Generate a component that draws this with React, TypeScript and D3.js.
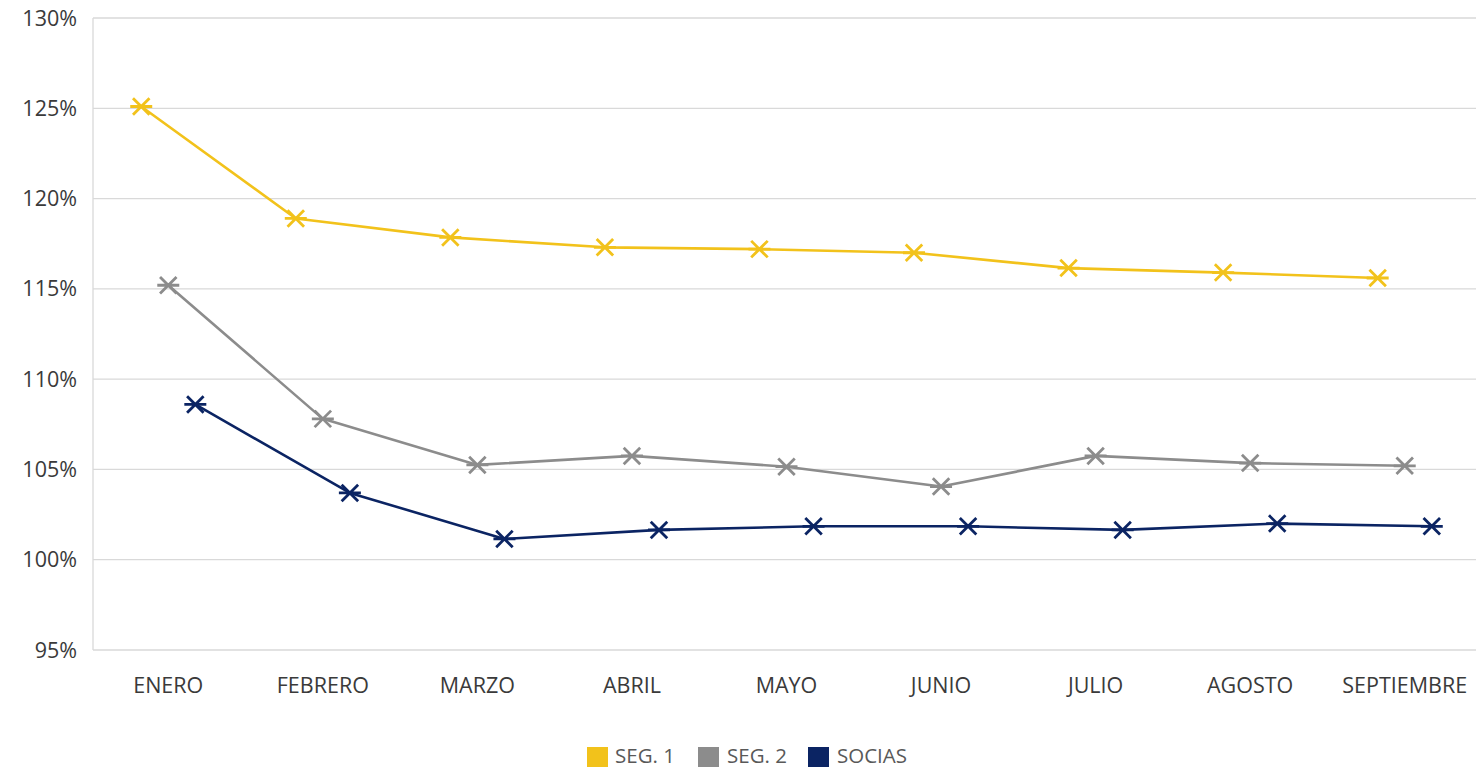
import { useRef, useEffect } from 'react';
import * as d3 from 'd3';

const months = ['ENERO', 'FEBRERO', 'MARZO', 'ABRIL', 'MAYO', 'JUNIO', 'JULIO', 'AGOSTO', 'SEPTIEMBRE'];
const seg1 = [125.1, 118.9, 117.85, 117.3, 117.2, 117.0, 116.15, 115.9, 115.6];
const seg2 = [115.2, 107.8, 105.25, 105.75, 105.15, 104.05, 105.75, 105.35, 105.2];
const socias = [108.6, 103.7, 101.15, 101.65, 101.85, 101.85, 101.65, 102.0, 101.85];
const yTicks = [95, 100, 105, 110, 115, 120, 125, 130];

const series = [
  { name: 'SEG. 1', values: seg1, color: '#f2c21b', offset: -0.175 },
  { name: 'SEG. 2', values: seg2, color: '#8c8c8c', offset: 0 },
  { name: 'SOCIAS', values: socias, color: '#0b2463', offset: 0.175 },
];

const W = 1476;
const H = 771;

export default function App() {
  const svgRef = useRef<SVGSVGElement>(null);

  useEffect(() => {
    if (!svgRef.current) return;
    const svg = d3.select(svgRef.current);
    svg.selectAll('*').remove();

    const font = '"Open Sans", "DejaVu Sans", sans-serif';
    const plotLeft = 93;
    const plotRight = W;

    const x = d3.scaleBand<string>().domain(months).range([91, 1482]);
    const y = d3.scaleLinear().domain([95, 130]).range([650, 18]);

    // gridlines
    svg.append('g')
      .selectAll('line')
      .data(yTicks)
      .join('line')
      .attr('x1', plotLeft)
      .attr('x2', plotRight)
      .attr('y1', (d) => y(d))
      .attr('y2', (d) => y(d))
      .attr('stroke', '#d9d9d9')
      .attr('stroke-width', 1.3);

    // left axis line
    svg.append('line')
      .attr('x1', plotLeft)
      .attr('x2', plotLeft)
      .attr('y1', y(130))
      .attr('y2', y(95))
      .attr('stroke', '#d9d9d9')
      .attr('stroke-width', 1.3);

    // y labels
    svg.append('g')
      .selectAll('text')
      .data(yTicks)
      .join('text')
      .attr('x', 77)
      .attr('y', (d) => y(d))
      .attr('dy', '0.35em')
      .attr('text-anchor', 'end')
      .attr('font-family', font)
      .attr('font-size', 21.5)
      .attr('fill', '#3a3a3a')
      .text((d) => `${d}%`);

    // x labels
    svg.append('g')
      .selectAll('text')
      .data(months)
      .join('text')
      .attr('x', (d) => (x(d) ?? 0) + x.bandwidth() / 2)
      .attr('y', 685)
      .attr('dy', '0.35em')
      .attr('text-anchor', 'middle')
      .attr('font-family', font)
      .attr('font-size', 21.5)
      .attr('fill', '#3a3a3a')
      .text((d) => d);

    const starPath = (s: number) =>
      `M${-s * 0.75},${-s * 0.75}L${s * 0.75},${s * 0.75}M${-s * 0.75},${s * 0.75}L${s * 0.75},${-s * 0.75}M${-s},0L${s},0`;

    series.forEach((s) => {
      const px = (i: number) => (x(months[i]) ?? 0) + x.bandwidth() * (0.5 + s.offset);
      const line = d3
        .line<number>()
        .x((_, i) => px(i))
        .y((d) => y(d));

      svg.append('path')
        .datum(s.values)
        .attr('fill', 'none')
        .attr('stroke', s.color)
        .attr('stroke-width', 2.6)
        .attr('stroke-linejoin', 'round')
        .attr('d', line);

      svg.append('g')
        .selectAll('path')
        .data(s.values)
        .join('path')
        .attr('transform', (d, i) => `translate(${px(i)},${y(d)})`)
        .attr('d', starPath(11))
        .attr('fill', 'none')
        .attr('stroke', s.color)
        .attr('stroke-width', 2.8);
    });

    // legend
    const legendItems = [
      { ...series[0], x: 587, tx: 615 },
      { ...series[1], x: 698, tx: 727 },
      { ...series[2], x: 808, tx: 837 },
    ];
    const lg = svg.append('g');
    legendItems.forEach((item) => {
      lg.append('rect')
        .attr('x', item.x)
        .attr('y', 747)
        .attr('width', 21)
        .attr('height', 20)
        .attr('fill', item.color);
      lg.append('text')
        .attr('x', item.tx)
        .attr('y', 756)
        .attr('dy', '0.35em')
        .attr('font-family', font)
        .attr('font-size', 20.5)
        .attr('fill', '#595959')
        .text(item.name);
    });
  }, []);

  return (
    <div style={{ position: 'absolute', left: 0, top: 0 }}>
      <svg ref={svgRef} width={W} height={H} style={{ display: 'block', background: '#fff' }} />
    </div>
  );
}
